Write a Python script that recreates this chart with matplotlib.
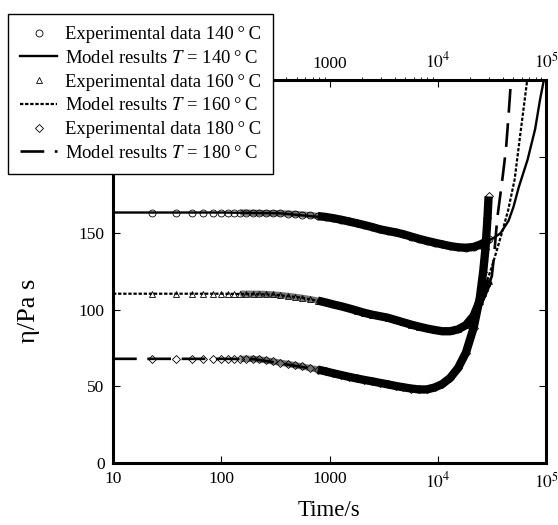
import matplotlib
matplotlib.use('Agg')
import matplotlib.pyplot as plt
import numpy as np

plt.rcParams['font.family'] = ['Liberation Serif', 'DejaVu Serif']
plt.rcParams['mathtext.fontset'] = 'stix'

t_exp = [23, 38, 54, 68, 84, 100, 116, 132, 150, 170, 195, 225, 260, 300, 350,
         410, 480, 560, 660, 780, 920, 1080, 1280, 1500, 1780, 2100, 2480, 2930,
         3460, 4080, 4820, 5690, 6720, 7930, 9360, 11000, 13000, 15400, 18200,
         21400, 24500, 26300, 27600, 28800, 29500]

eta_exp_140 = [163.5, 163.5, 163.5, 163.5, 163.5, 163.5, 163.5, 163.5, 163.5, 163.4,
               163.3, 163.2, 163.1, 163.0, 163.0, 162.8, 162.5, 162.2, 161.8, 161.2,
               160.6, 159.8, 158.8, 157.7, 156.5, 155.3, 154.0, 152.5, 151.5, 150.5,
               149.3, 147.8, 146.3, 145.0, 143.8, 142.7, 141.6, 140.8, 140.5, 141.0,
               142.5, 143.5, 144.5, 145.5, 146.0]

eta_exp_160 = [110.5, 110.5, 110.5, 110.5, 110.5, 110.5, 110.5, 110.5, 110.5, 110.5,
               110.5, 110.5, 110.3, 110.0, 109.6, 109.1, 108.5, 107.8, 107.0, 106.0,
               104.8, 103.5, 102.3, 101.0, 99.5, 98.0, 96.8, 95.8, 94.8, 93.3,
               91.8, 90.3, 89.0, 87.8, 86.8, 86.0, 86.0, 87.2, 90.0, 96.0,
               106.0, 111.0, 114.5, 117.5, 119.0]

eta_exp_180 = [68.0, 68.0, 68.0, 68.0, 68.0, 68.0, 68.0, 68.0, 68.0, 68.0,
               68.0, 67.6, 67.0, 66.3, 65.5, 64.7, 63.8, 63.0, 62.0, 61.0,
               59.8, 58.6, 57.4, 56.3, 55.2, 54.2, 53.3, 52.3, 51.3, 50.3,
               49.4, 48.6, 48.0, 48.0, 49.3, 51.5, 55.5, 62.0, 72.0, 88.0,
               108.0, 125.0, 140.0, 160.0, 174.0]

# model results
t_mod_140 = [10, 100, 350, 1000, 2000, 3000, 4500, 7000, 10000, 16000, 20000, 24500,
             29000, 33000, 38000, 45000, 50000, 56000, 67600, 79400, 88000, 95500, 100000]
eta_mod_140 = [163.5, 163.5, 163, 160, 155, 152.5, 150, 146, 143, 140.5, 141, 142.5,
               145, 147, 150, 158, 167, 180, 198, 218, 237, 250, 256]

t_mod_160 = [10, 100, 300, 540, 1550, 2950, 4470, 6000, 10700, 13000, 17400, 21400,
             24500, 28200, 31600, 35500, 39800, 44700, 51300, 57500, 63000, 67600]
eta_mod_160 = [110.5, 110.5, 110, 108, 102, 96, 92.5, 90, 86, 86, 88.5, 96,
               106, 118, 128, 140, 152, 165, 185, 213, 235, 252]

t_mod_180 = [10, 100, 200, 263, 776, 2240, 2950, 4470, 6900, 9000, 12300, 13200,
             17400, 21400, 24500, 28200, 31600, 33100, 35500, 39800, 42700, 45200,
             47300, 48000]
eta_mod_180 = [68, 68, 67.8, 66.5, 61, 54, 52, 49.5, 48, 49, 54, 56,
               72, 88, 101, 112, 122, 135, 160, 187, 205, 228, 248, 256]

fig = plt.figure(figsize=(5.58, 5.25), dpi=100)
ax = fig.add_axes([113 / 558, 1 - 463 / 525, 433 / 558, 383 / 525])

# dense experimental points merge into a band: grey first, then black
t_arr = np.array(t_exp)
grey = (t_arr >= 150) & (t_arr <= 1080)
black = t_arr >= 780
for eta in [eta_exp_140, eta_exp_160, eta_exp_180]:
    eta = np.array(eta)
    ax.plot(t_arr[grey], eta[grey], color='0.45', lw=4.5,
            solid_capstyle='butt', zorder=2)
    ax.plot(t_arr[black], eta[black], color='black', lw=6,
            solid_capstyle='butt', zorder=2)

deg = '\u2009\u00b0\u2009C'
mk = dict(ls='none', mfc='none', mec='black', mew=0.6, ms=5, zorder=3)
h1, = ax.plot(t_exp, eta_exp_140, marker='o', label='Experimental data 140' + deg, **mk)
h3, = ax.plot(t_exp, eta_exp_160, marker='^', label='Experimental data 160' + deg, **mk)
h5, = ax.plot(t_exp, eta_exp_180, marker='D', label='Experimental data 180' + deg,
              **{**mk, 'ms': 4.2})

h2, = ax.plot(t_mod_140, eta_mod_140, color='black', lw=1.7, zorder=4,
              label='Model results $T$ = 140' + deg)
h4, = ax.plot(t_mod_160, eta_mod_160, color='black', lw=1.6, ls=(0, (1.5, 0.8)), zorder=4,
              label='Model results $T$ = 160' + deg)
h6, = ax.plot(t_mod_180, eta_mod_180, color='black', lw=1.9, ls=(0, (9, 4)), zorder=4,
              label='Model results $T$ = 180' + deg)

ax.set_xscale('log')
ax.set_xlim(10, 1e5)
ax.set_ylim(0, 250)
ax.set_xticks([10, 100, 1000, 1e4, 1e5])
ax.set_xticklabels(['10', '100', '1000', '$10^4$', '$10^5$'])
ax.set_yticks([0, 50, 100, 150, 200, 250])
ax.set_yticklabels(['0', '50', '100', '150', '', ''])
ax.minorticks_off()
ax.tick_params(direction='in', length=5, width=0.8, top=True, right=True,
               labelsize=12.5, pad=6)
# top labels for 10 and 100 sit under the legend
ax2 = ax.secondary_xaxis('top')
ax2.set_xticks([1000, 1e4, 1e5])
ax2.set_xticklabels(['1000', '$10^4$', '$10^5$'])
ax2.tick_params(direction='in', length=0, labelsize=12.5, pad=6)
ax2.spines['top'].set_visible(False)
for s in ax.spines.values():
    s.set_linewidth(2.2)

ax.set_xlabel('Time/s', fontsize=16.5, labelpad=6)
ax.set_ylabel('\u03b7/Pa s', fontsize=19)
ax.yaxis.set_label_coords(-0.169, 0.397)

leg = fig.legend(handles=[h1, h2, h3, h4, h5, h6], loc='upper left',
                 bbox_to_anchor=(8 / 558, 1 - 14 / 525), fontsize=13.4,
                 fancybox=False, framealpha=1, edgecolor='black',
                 handlelength=2.0, handletextpad=0.4, labelspacing=0.36,
                 borderpad=0.65, borderaxespad=0)
leg.get_frame().set_linewidth(1.0)
leg.set_zorder(10)

fig.savefig('out.png', dpi=100)
